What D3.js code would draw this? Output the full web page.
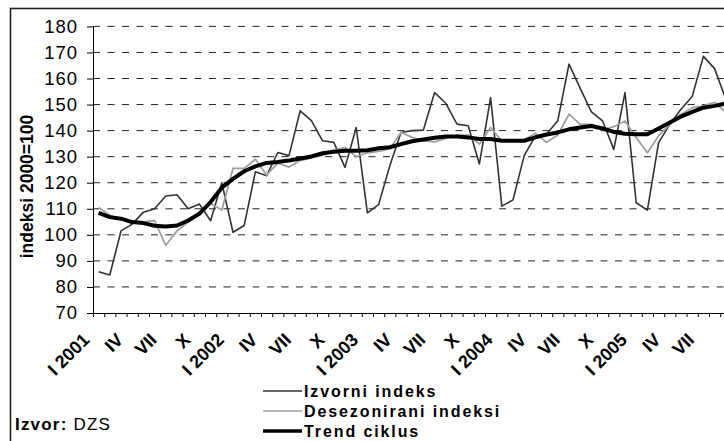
<!DOCTYPE html>
<html>
<head>
<meta charset="utf-8">
<script src="https://cdn.jsdelivr.net/npm/d3@7"></script>
<style>
  body { margin: 0; background: #fff; }
  svg { display: block; font-family: "Liberation Sans", Arial, sans-serif; }
</style>
</head>
<body>
<svg width="724" height="441"></svg>
<script>
// mjeseci sijecanj 2001 - rujan 2005
const years = [2001, 2002, 2003, 2004, 2005];
const romanMonths = ["I", "II", "III", "IV", "V", "VI", "VII", "VIII", "IX", "X", "XI", "XII"];
const monthCount = 57;
const categories = d3.range(monthCount).map(i => ({
    year: years[Math.floor(i / 12)],
    month: romanMonths[i % 12]
}));

const izvorni = [
    85.8, 84.6, 101.5, 104.1, 108.7, 110, 114.9, 115.4, 110, 111.8, 105.4, 120,
    101, 103.6, 124.2, 122.7, 131.6, 130.4, 147.6, 143.8, 136.1, 135.5, 125.9, 141.2,
    108.4, 111.6, 126.5, 139.3, 140, 140.2, 154.6, 150.5, 142.5, 141.9, 127.2, 152.7,
    111, 113.4, 130.4, 138, 138.7, 143.8, 165.5, 156.2, 147.2, 143.7, 132.8, 154.6,
    112.3, 109.5, 135.4, 142.4, 148.2, 153.1, 168.5, 163.8, 152
];
const desezonirani = [
    110.5, 107.5, 106, 104.5, 105, 105.5, 96, 101.5, 105, 108.5, 112, 109.5,
    125.5, 125.5, 129, 123, 127.5, 126, 128.5, 129.5, 130.5, 132.5, 133.5, 130,
    131.5, 132, 133, 139.3, 137.4, 136.1, 135.7, 137, 138.3, 138.3, 134.8, 141.2,
    136, 136, 136.5, 139, 135.5, 138.3, 146.3, 142.4, 142.4, 140.3, 141.5, 143.7,
    137.3, 131.5, 138, 142.4, 146.3, 148.8, 149.5, 150.8, 147
];
const trend = [
    108.4, 106.8, 106.2, 104.9, 104.5, 103.5, 103.2, 103.6, 105.5, 108.1, 112.6, 118.1,
    121.5, 124.4, 126.3, 127.6, 128, 128.5, 129.3, 130.1, 131.3, 131.9, 132.3, 132.3,
    132.5, 133.2, 133.6, 134.8, 135.9, 136.6, 137.3, 137.7, 137.7, 137.4, 136.8, 136.8,
    136.1, 136.1, 136.1, 137.4, 138.5, 139.3, 140.5, 141.2, 141.8, 140.8, 139.5, 138.8,
    138.6, 138.6, 140.8, 143.1, 145.4, 147.2, 148.8, 149.5, 150.4
];
const yTicks = d3.range(70, 181, 10);

const series = [
    { name: "Izvorni indeks", values: izvorni, color: "#333", width: 1.6 },
    { name: "Desezonirani indeksi", values: desezonirani, color: "#a0a0a0", width: 1.8 },
    { name: "Trend ciklus", values: trend, color: "#000", width: 4 }
];

const svg = d3.select("svg");
const plotLeft = 93, plotTop = 26.4, plotBottom = 313, step = 11.2;

// okvir
svg.append("rect")
    .attr("x", 10.5).attr("y", 8.5)
    .attr("width", 740).attr("height", 460)
    .attr("fill", "none").attr("stroke", "#222").attr("stroke-width", 1.6);

const x = d3.scaleLinear()
    .domain([0, monthCount])
    .range([plotLeft, plotLeft + monthCount * step]);

const y = d3.scaleLinear()
    .domain([70, 180])
    .range([plotBottom, plotTop]);

// mreza
svg.append("g")
    .selectAll("line")
    .data(yTicks.filter(d => d > 70))
    .enter().append("line")
    .attr("x1", plotLeft).attr("x2", 724)
    .attr("y1", d => y(d)).attr("y2", d => y(d))
    .attr("stroke", "#222")
    .attr("stroke-dasharray", "7,7.5");

const yAxis = svg.append("g")
    .attr("transform", `translate(${plotLeft},0)`)
    .call(d3.axisLeft(y).tickValues(yTicks).tickSize(6).tickSizeOuter(0).tickPadding(9));
yAxis.selectAll("text")
    .attr("font-size", 18.5)
    .attr("letter-spacing", 1)
    .attr("fill", "#000")
    .attr("font-family", "Liberation Sans, Arial, sans-serif");
yAxis.selectAll("line, path").attr("stroke", "#000");

const xAxis = svg.append("g")
    .attr("transform", `translate(0,${plotBottom})`)
    .call(d3.axisBottom(x).tickValues(d3.range(0, monthCount + 1)).tickSize(4).tickSizeOuter(0).tickFormat(""));
xAxis.selectAll("line, path").attr("stroke", "#000");

// oznake mjeseci, zakrenute za 45 stupnjeva
svg.append("g")
    .selectAll("text")
    .data(categories.map((c, i) => ({ c, i })).filter(d => d.i % 3 === 0))
    .enter().append("text")
    .attr("transform", d => `translate(${x(d.i + 0.5) - 8},341) rotate(-45)`)
    .attr("text-anchor", "end")
    .attr("font-size", 18)
    .attr("font-weight", "bold")
    .text(d => d.c.month === "I" ? `I ${d.c.year}` : d.c.month);

// naslov osi y
svg.append("text")
    .attr("transform", "translate(33,186.5) rotate(-90)")
    .attr("text-anchor", "middle")
    .attr("font-size", 17.5)
    .attr("font-weight", "bold")
    .text("indeksi 2000=100");

const line = d3.line()
    .x((d, i) => x(i + 0.5))
    .y(d => y(d));

svg.append("g")
    .selectAll("path")
    .data(series)
    .enter().append("path")
    .attr("d", d => line(d.values))
    .attr("fill", "none")
    .attr("stroke", d => d.color)
    .attr("stroke-width", d => d.width)
    .attr("stroke-linejoin", "round");

// legenda
const legend = svg.append("g")
    .selectAll("g")
    .data(series)
    .enter().append("g")
    .attr("transform", (d, i) => `translate(263,${391 + i * 20})`);
legend.append("line")
    .attr("x1", 0).attr("x2", 39)
    .attr("stroke", d => d.color)
    .attr("stroke-width", d => d.width === 4 ? 3.5 : 1.6);
legend.append("text")
    .attr("x", 41).attr("y", 5.5)
    .attr("font-size", 16)
    .attr("font-weight", "bold")
    .attr("letter-spacing", 1.9)
    .text(d => d.name);

// izvor
const izvor = svg.append("text")
    .attr("x", 15).attr("y", 430)
    .attr("font-size", 17)
    .attr("letter-spacing", 1.2);
izvor.append("tspan").attr("font-weight", "bold").text("Izvor:");
izvor.append("tspan").text(" DZS");
</script>
</body>
</html>
